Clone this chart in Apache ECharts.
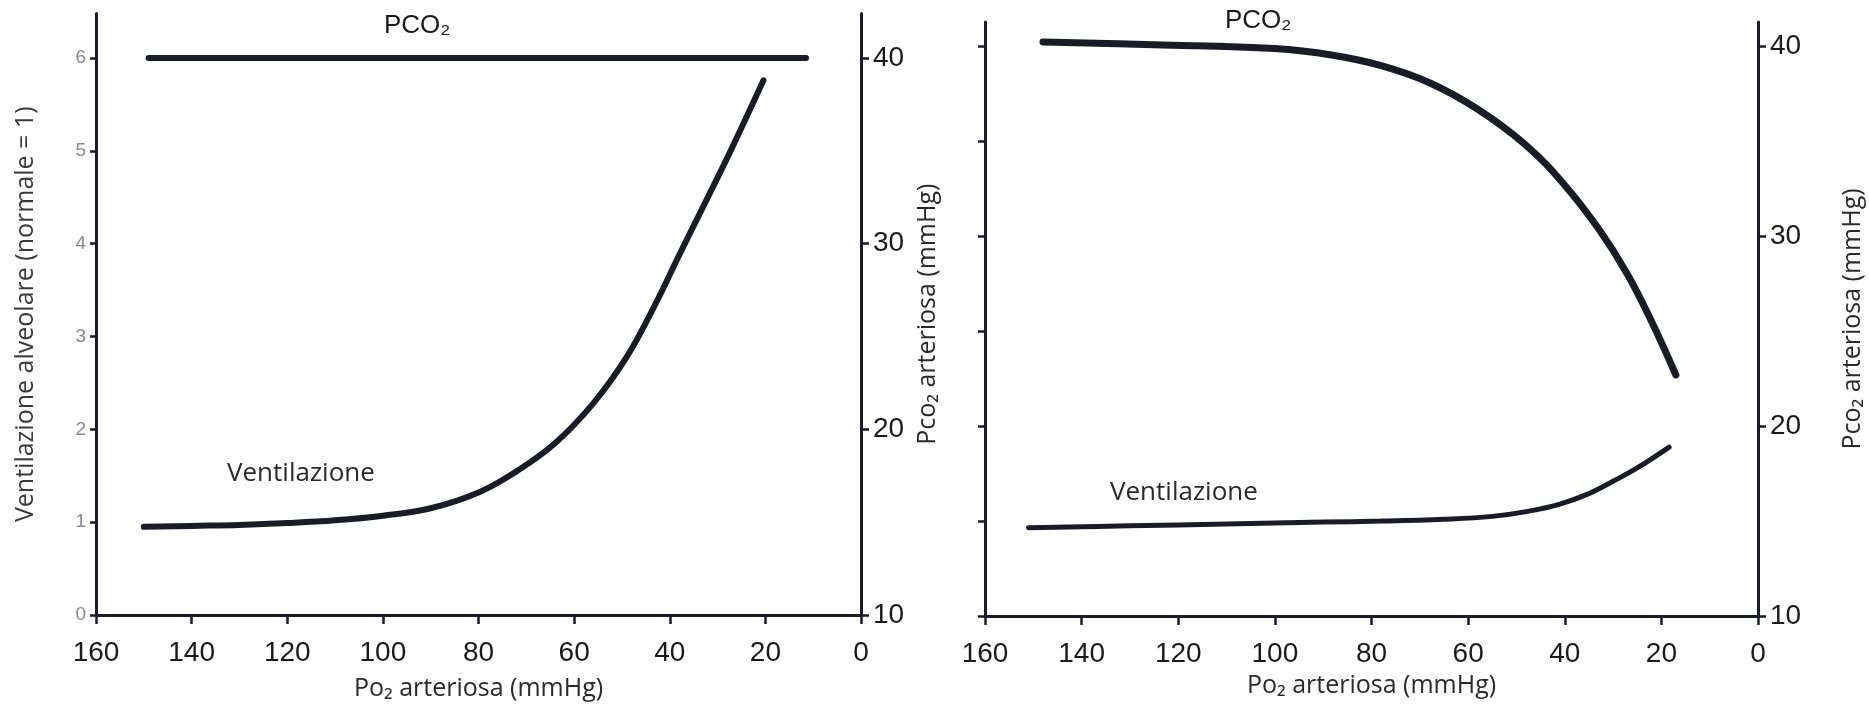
<!doctype html>
<html lang="it">
<head>
  <meta charset="utf-8" />
  <title>Ventilazione e PCO2 in funzione della PO2 arteriosa</title>
  <style>
    html,body{margin:0;padding:0;background:#fff}
    #chart{width:1869px;height:713px}
  </style>
  <script src="https://cdn.jsdelivr.net/npm/echarts@6.0.0/dist/echarts.min.js"></script>
</head>
<body>
  <div id="chart"></div>
  <script>
    // tick values
    const ventTicks = [0, 1, 2, 3, 4, 5, 6];
    const pco2Ticks = [10, 20, 30, 40];

    // Grafico A (sinistra): PCO2 mantenuta costante
    const aPco2Po2 = [11.5, 149];
    const aPco2 = [40, 40];
    const aVentPo2 = [20.4, 27, 33, 38, 43, 49, 56, 64, 72, 80, 90, 100, 110, 120, 130, 140, 150];
    const aVent = [5.76, 5.03, 4.4, 3.88, 3.35, 2.78, 2.28, 1.85, 1.55, 1.32, 1.15, 1.07, 1.02, 0.99, 0.97, 0.96, 0.95];

    // Grafico B (destra): PCO2 libera di scendere
    const bPco2Po2 = [17, 22, 27, 33, 40, 48, 58, 68, 78, 88, 100, 125, 148];
    const bPco2 = [22.7, 25.5, 28.0, 30.4, 32.7, 34.8, 36.7, 38.1, 39.0, 39.55, 39.9, 40.1, 40.25];
    const bVentPo2 = [18.4, 25, 30, 35, 41, 48, 55, 65, 78, 90, 110, 130, 151];
    const bVent = [1.78, 1.56, 1.42, 1.29, 1.18, 1.1, 1.05, 1.02, 1.0, 0.99, 0.97, 0.95, 0.93];

    function pairs(xs, ys) {
      return xs.map((x, i) => [x, ys[i]]);
    }

    const ink = '#1b1b26';
    const nameFont = 'Open Sans';
    const numFont = 'Liberation Sans';

    function po2Axis(grid) {
      return {
        type: 'value', gridIndex: grid, inverse: true, min: 0, max: 160, interval: 20,
        name: 'Po₂ arteriosa (mmHg)', nameLocation: 'middle', nameGap: grid === 0 ? 61 : 47,
        nameTextStyle: { fontFamily: nameFont, fontSize: 25, color: '#2a2a2a' },
        axisLine: { onZero: false, lineStyle: { color: ink, width: 3 } },
        axisTick: { length: 9, lineStyle: { color: ink, width: 2.5 } },
        axisLabel: { fontFamily: numFont, fontSize: 28, color: '#1a1a1a', margin: 24 },
        splitLine: { show: false }
      };
    }

    function rightAxis(grid, max) {
      return {
        type: 'value', gridIndex: grid, position: 'right', min: 10, max: max,
        name: 'Pco₂ arteriosa (mmHg)', nameLocation: 'middle', nameRotate: 90, nameGap: grid === 0 ? 54 : 82,
        nameTextStyle: { fontFamily: nameFont, fontSize: 25, color: '#2a2a2a' },
        axisLine: { onZero: false, lineStyle: { color: ink, width: 3 } },
        axisTick: { length: 8, customValues: pco2Ticks, lineStyle: { color: ink, width: 2.5 } },
        axisLabel: { customValues: pco2Ticks, fontFamily: numFont, fontSize: 28, color: '#1a1a1a', margin: 12 },
        splitLine: { show: false }
      };
    }

    // plain smoothing, the monotone variant makes steps on the inverted axis
    const lineBase = { type: 'line', showSymbol: false, smooth: 0.4 };

    const chart = echarts.init(document.getElementById('chart'), null, { renderer: 'canvas' });
    chart.setOption({
      backgroundColor: '#fff',
      animation: false,
      grid: [
        { left: 96, right: 1008, top: 13.5, bottom: 98 },
        { left: 985, right: 111, top: 22, bottom: 97 }
      ],
      xAxis: [po2Axis(0), po2Axis(1)],
      yAxis: [
        {
          type: 'value', gridIndex: 0, position: 'left', min: 0, max: 6.48,
          name: 'Ventilazione alveolare (normale = 1)', nameLocation: 'middle', nameGap: 58,
          nameTextStyle: { fontFamily: nameFont, fontSize: 25, color: '#3a3a3a' },
          axisLine: { onZero: false, lineStyle: { color: ink, width: 3 } },
          axisTick: { length: 6, customValues: ventTicks, lineStyle: { color: ink, width: 2.5 } },
          axisLabel: { customValues: ventTicks, fontFamily: numFont, fontSize: 19, color: '#8a8a8a', margin: 10 },
          splitLine: { show: false }
        },
        rightAxis(0, 42.4),
        {
          // asse della ventilazione nel secondo grafico, senza etichette
          type: 'value', gridIndex: 1, position: 'left', min: 0, max: 6.26,
          axisLine: { onZero: false, lineStyle: { color: ink, width: 3 } },
          axisTick: { length: 7, customValues: ventTicks, lineStyle: { color: ink, width: 2.5 } },
          axisLabel: { show: false },
          splitLine: { show: false }
        },
        rightAxis(1, 41.3)
      ],
      series: [
        Object.assign({}, lineBase, { name: 'PCO2 A', xAxisIndex: 0, yAxisIndex: 1, data: pairs(aPco2Po2, aPco2),
          smooth: false, lineStyle: { color: ink, width: 6, cap: 'round' } }),
        Object.assign({}, lineBase, { name: 'Ventilazione A', xAxisIndex: 0, yAxisIndex: 0, data: pairs(aVentPo2, aVent),
          lineStyle: { color: ink, width: 6, cap: 'round' } }),
        Object.assign({}, lineBase, { name: 'PCO2 B', xAxisIndex: 1, yAxisIndex: 3, data: pairs(bPco2Po2, bPco2),
          lineStyle: { color: ink, width: 7, cap: 'round' } }),
        Object.assign({}, lineBase, { name: 'Ventilazione B', xAxisIndex: 1, yAxisIndex: 2, data: pairs(bVentPo2, bVent),
          lineStyle: { color: ink, width: 5, cap: 'round' } })
      ],
      graphic: [
        { type: 'text', left: 384, top: 13, style: { text: 'PCO₂', font: '26px "Liberation Sans"', fill: '#1a1a1a' } },
        { type: 'text', left: 1225, top: 8, style: { text: 'PCO₂', font: '26px "Liberation Sans"', fill: '#1a1a1a' } },
        { type: 'text', left: 227, top: 461, style: { text: 'Ventilazione', font: '26px "Open Sans"', fill: '#2a2a2a' } },
        { type: 'text', left: 1110, top: 480, style: { text: 'Ventilazione', font: '26px "Open Sans"', fill: '#2a2a2a' } }
      ]
    });
  </script>
</body>
</html>
